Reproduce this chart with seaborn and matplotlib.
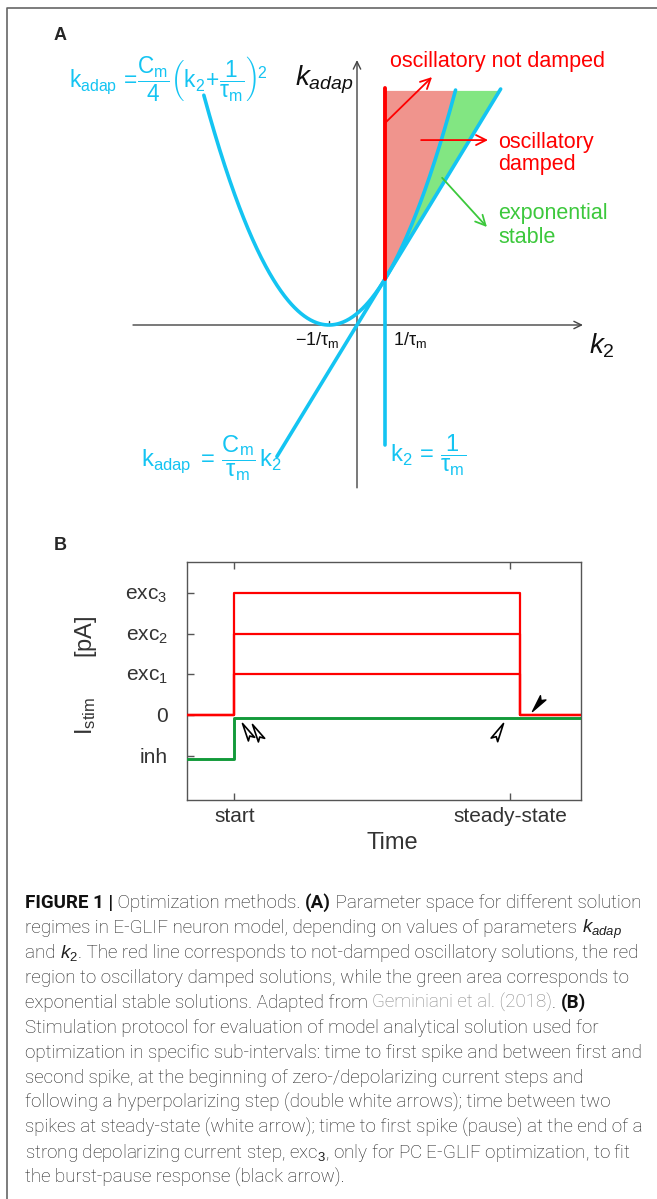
import numpy as np
import pandas as pd
import matplotlib
matplotlib.use("Agg")
import matplotlib.pyplot as plt
import seaborn as sns
from matplotlib.path import Path
from matplotlib.markers import MarkerStyle
from matplotlib.transforms import Affine2D, offset_copy
from matplotlib.lines import Line2D
from matplotlib import font_manager

# ---------------- data ----------------
# Panel A (schematic, normalised units: 1/tau_m = 1, C_m = 1)
tau_m = 1.0
C_m = 1.0
parabola_k2_range = [-5.47, 3.52]
line_k2_range = [-2.86, 5.13]
k2_vertical = 1.0 / tau_m
red_line_kadap = [1.0, 5.15]
blue_line_kadap = [-2.61, 1.0]
region_kadap = [1.0, 5.1]
axisA_k2_tick_pos = [-1.0, 1.0]
axisA_k2_tick_labels = [r"$-1/\mathrm{\tau_m}$", r"$1/\mathrm{\tau_m}$"]

# Panel B (stimulation protocol)
time_steps = [0.0, 1.2, 1.2, 8.45, 8.45, 10.0]
exc_levels = [1, 2, 3]
inh_level = -1
inh_time = [0.0, 1.2, 1.2, 10.0]
level_values = [-1, 0, 1, 2, 3]
level_labels = ["inh", "0", "exc$_1$", "exc$_2$", "exc$_3$"]
time_tick_pos = [1.2, 8.2]
time_tick_labels = ["start", "steady-state"]
double_white_tips = [1.40, 1.66]
double_white_level = [-0.19, -0.21]
white_tip = [8.02]
white_level = [-0.2]
black_tip = [8.76]
black_level = [0.1]

caption_lines = [
    [("FIGURE 1 |", "b"), (" Optimization methods. ", "n"), ("(A)", "b"),
     (" Parameter space for different solution", "n")],
    [("regimes in E-GLIF neuron model, depending on values of parameters ", "n"),
     (r"$k_{adap}$", "n")],
    [("and ", "n"), (r"$k_2$", "n"),
     (". The red line corresponds to not-damped oscillatory solutions, the red", "n")],
    [("region to oscillatory damped solutions, while the green area corresponds to", "n")],
    [("exponential stable solutions. Adapted from ", "n"), ("Geminiani et al. (2018)", "g"),
     (". ", "n"), ("(B)", "b")],
    [("Stimulation protocol for evaluation of model analytical solution used for", "n")],
    [("optimization in specific sub-intervals: time to first spike and between first and", "n")],
    [("second spike, at the beginning of zero-/depolarizing current steps and", "n")],
    [("following a hyperpolarizing step (double white arrows); time between two", "n")],
    [("spikes at steady-state (white arrow); time to first spike (pause) at the end of a", "n")],
    [("strong depolarizing current step, exc$_3$, only for PC E-GLIF optimization, to fit", "n")],
    [("the burst-pause response (black arrow).", "n")],
]

# ---------------- style ----------------
sns.set_style("white")
plt.rcParams["font.family"] = ["Liberation Sans", "DejaVu Sans"]
plt.rcParams["mathtext.fontset"] = "custom"
plt.rcParams["mathtext.rm"] = "Liberation Sans"
plt.rcParams["mathtext.it"] = "Liberation Sans:italic"
plt.rcParams["mathtext.bf"] = "Liberation Sans:bold"

BLUE = "#14c4f2"
RED = "#ff0000"
RED_FILL = "#f0948d"
GREEN_FILL = "#82e682"
GREEN_TXT = "#3cc83c"
GREEN_LINE = "#129a3a"
AXGREY = "#444444"

W, H = 657, 1199
fig = plt.figure(figsize=(W / 100, H / 100), dpi=100)


def fx(px):
    return px / W


def fy(py):
    return 1 - py / H


# ---------------- Panel A ----------------
A_X0, A_XU = 357, 28
A_Y0, A_YU = 325, 46
A_BOTTOM = 510
axA = fig.add_axes([0, fy(A_BOTTOM), 1, A_BOTTOM / H])

k2_par = np.linspace(parabola_k2_range[0], parabola_k2_range[1], 400)
kadap_par = C_m / 4 * (k2_par + 1 / tau_m) ** 2
k2_lin = np.array(line_k2_range)
kadap_lin = C_m / tau_m * k2_lin

# regions
yk = np.linspace(region_kadap[0], region_kadap[1], 200)
x_par = 2 * np.sqrt(yk / C_m) - 1 / tau_m
x_lin = yk * tau_m / C_m
axA.fill_betweenx(yk, k2_vertical, x_par, color=RED_FILL, lw=0, zorder=1)
axA.fill_betweenx(yk, x_par, x_lin, color=GREEN_FILL, lw=0, zorder=1)

# axes with arrows
axA.annotate("", xy=(8.07, 0), xytext=(-8.0, 0),
             arrowprops=dict(arrowstyle="->,head_length=0.45,head_width=0.22",
                             color=AXGREY, lw=1.0, shrinkA=0, shrinkB=0,
                             mutation_scale=12), zorder=2)
axA.annotate("", xy=(0, 5.76), xytext=(0, -3.54),
             arrowprops=dict(arrowstyle="->,head_length=0.45,head_width=0.22",
                             color=AXGREY, lw=1.0, shrinkA=0, shrinkB=0,
                             mutation_scale=12), zorder=2)
for xt in axisA_k2_tick_pos:
    axA.plot([xt, xt], [0, 0.09], color=AXGREY, lw=1.0, zorder=2)

sns.lineplot(x=k2_par, y=kadap_par, sort=False, estimator=None, color=BLUE,
             lw=2.6, ax=axA, zorder=4)
sns.lineplot(x=k2_lin, y=kadap_lin, sort=False, estimator=None, color=BLUE,
             lw=2.6, ax=axA, zorder=4)
sns.lineplot(x=[k2_vertical, k2_vertical], y=blue_line_kadap, sort=False,
             estimator=None, color=BLUE, lw=2.6, ax=axA, zorder=4)
sns.lineplot(x=[k2_vertical, k2_vertical], y=red_line_kadap, sort=False,
             estimator=None, color=RED, lw=2.8, ax=axA, zorder=5)

# arrows to regions
arw = dict(arrowstyle="->,head_length=0.6,head_width=0.3", lw=1.3,
           shrinkA=0, shrinkB=0, mutation_scale=12)
axA.annotate("", xy=(2.68, 5.39), xytext=(1.0, 4.39),
             arrowprops=dict(color=RED, **arw), zorder=6)
axA.annotate("", xy=(4.68, 4.02), xytext=(2.29, 4.02),
             arrowprops=dict(color=RED, **arw), zorder=6)
axA.annotate("", xy=(4.64, 2.13), xytext=(3.04, 3.2),
             arrowprops=dict(color=GREEN_TXT, **arw), zorder=6)

for xt, lab in zip(axisA_k2_tick_pos, axisA_k2_tick_labels):
    axA.text(xt + (-0.43 if xt < 0 else 0.89), -0.33, lab, fontsize=13,
             ha="center", va="center", color="#111111")

axA.set_xlim(-A_X0 / A_XU, (W - A_X0) / A_XU)
axA.set_ylim(-(A_BOTTOM - A_Y0) / A_YU, A_Y0 / A_YU)
axA.axis("off")

# panel A texts
fig.text(fx(60), fy(36), "A", fontsize=13, fontweight="bold", ha="center", va="center")
fig.text(fx(354), fy(80), r"$k_{adap}$", fontsize=20, ha="right", va="center", color="#111111")
fig.text(fx(589), fy(346), r"$k_2$", fontsize=20, ha="left", va="center", color="#111111")
fig.text(fx(69), fy(79),
         r"$\mathrm{k_{adap}}\,=\!\dfrac{\mathrm{C_m}}{4}\left(\mathrm{k_2}\!+\!\dfrac{1}{\mathrm{\tau_m}}\right)^{\!2}$",
         fontsize=16.3, color=BLUE, ha="left", va="center")
fig.text(fx(141), fy(458),
         r"$\mathrm{k_{adap}}\ =\,\dfrac{\mathrm{C_m}}{\mathrm{\tau_m}}\,\mathrm{k_2}$",
         fontsize=17, color=BLUE, ha="left", va="center")
fig.text(fx(390), fy(455), r"$\mathrm{k_2}\,=\,\dfrac{1}{\mathrm{\tau_m}}$",
         fontsize=17, color=BLUE, ha="left", va="center")
fig.text(fx(390), fy(62), "oscillatory not damped", fontsize=15.5, color=RED,
         ha="left", va="center")
fig.text(fx(498), fy(153.5), "oscillatory\ndamped", fontsize=15.5, color=RED,
         ha="left", va="center", linespacing=1.08)
fig.text(fx(498), fy(225.5), "exponential\nstable", fontsize=15.5, color=GREEN_TXT,
         ha="left", va="center", linespacing=1.15)

# ---------------- Panel B ----------------
axB = fig.add_axes([fx(187), fy(800), 394 / W, 238 / H])
rows = []
for lvl in exc_levels:
    for t, on in zip(time_steps, [0, 0, 1, 1, 0, 0]):
        rows.append({"t": t, "I": lvl * on, "trace": f"exc{lvl}"})
df_exc = pd.DataFrame(rows)
sns.lineplot(data=df_exc, x="t", y="I", units="trace", estimator=None, sort=False,
             color=RED, lw=1.6, ax=axB, zorder=3)
df_inh = pd.DataFrame({"t": inh_time, "I": [inh_level, inh_level, 0, 0]})
sns.lineplot(data=df_inh, x="t", y="I", estimator=None, sort=False,
             color=GREEN_LINE, lw=2.1, ax=axB, zorder=4)
axB.lines[-1].set_transform(offset_copy(axB.transData, fig=fig, x=0, y=-3.5, units="dots"))


# arrowhead markers
def arrow_marker(angle):
    verts = [(0, 0), (-1, 0.2), (-0.8, 0), (-1, -0.2), (0, 0)]
    codes = [Path.MOVETO, Path.LINETO, Path.LINETO, Path.LINETO, Path.CLOSEPOLY]
    return MarkerStyle(Path(verts, codes), transform=Affine2D().rotate_deg(angle))


axB.plot(double_white_tips, double_white_level, ls="none", marker=arrow_marker(120),
         ms=26, mfc="white", mec="black", mew=1.2, zorder=6)
axB.plot(white_tip, white_level, ls="none", marker=arrow_marker(61),
         ms=27, mfc="white", mec="black", mew=1.2, zorder=6)
axB.plot(black_tip, black_level, ls="none", marker=arrow_marker(232),
         ms=25, mfc="black", mec="black", mew=1.0, zorder=6)

axB.set_xlim(0, 10)
axB.set_ylim(-(800 - 715) / 40.7, (715 - 562) / 40.7)
axB.set_yticks(level_values, level_labels)
axB.set_xticks(time_tick_pos, time_tick_labels)
axB.set_xlabel("")
axB.set_ylabel("")
axB.tick_params(axis="both", direction="in", length=5, width=1, color="#555555",
                labelsize=15, labelcolor="#333333")
axB.tick_params(axis="x", bottom=True, top=True, pad=5)
axB.tick_params(axis="y", left=True, right=False, pad=14)
for sp in axB.spines.values():
    sp.set_color("#555555")
    sp.set_linewidth(1.0)

fig.text(fx(60), fy(545), "B", fontsize=13, fontweight="bold", ha="center", va="center")
fig.text(fx(392), fy(843), "Time", fontsize=17, color="#333333", ha="center", va="center")
fig.text(fx(86), fy(675), r"I$_\mathrm{stim}$      [pA]", fontsize=17, color="#333333",
         rotation=90, ha="center", va="center")

# ---------------- frame ----------------
fig.add_artist(Line2D([fx(7), fx(7), 1], [0, fy(8), fy(8)], transform=fig.transFigure,
                      color="#666666", lw=1.2))

# ---------------- caption ----------------
renderer = fig.canvas.get_renderer()


def font_available(name):
    try:
        font_manager.findfont(font_manager.FontProperties(family=name),
                              fallback_to_default=False)
        return True
    except Exception:
        return False


if font_available("Liberation Sans Narrow"):
    CAP_FAMILY = ["Liberation Sans Narrow", "DejaVu Sans"]
    CAP_WEIGHT = "normal"
    CAP_COLOR = "#333333"
else:
    CAP_FAMILY = ["Roboto", "DejaVu Sans"]
    CAP_WEIGHT = "light"
    CAP_COLOR = "#1e1e1e"


def seg_kw(style, fs):
    kw = dict(fontsize=fs, family=CAP_FAMILY, color=CAP_COLOR, fontweight=CAP_WEIGHT)
    if style == "b":
        kw["fontweight"] = "bold"
        kw["color"] = "#111111"
    elif style == "g":
        kw["color"] = "#858585"
    return kw


def seg_width(txt, kw):
    t1 = fig.text(0, 0, "|" + txt + "|", **kw)
    w1 = t1.get_window_extent(renderer).width
    t1.remove()
    t2 = fig.text(0, 0, "||", **kw)
    w2 = t2.get_window_extent(renderer).width
    t2.remove()
    return w1 - w2


base_fs = 10.0
w_first = sum(seg_width(s, seg_kw(st, base_fs)) for s, st in caption_lines[0])
cap_fs = min(base_fs * 616.0 / w_first, 14.0)

for i, line in enumerate(caption_lines):
    x = 25.0
    base_y = 903 + 25.0 * i + 5
    for s, st in line:
        kw = seg_kw(st, cap_fs)
        fig.text(fx(x), fy(base_y), s, ha="left", va="baseline", **kw)
        x += seg_width(s, kw)

fig.savefig("out.png", dpi=100)
